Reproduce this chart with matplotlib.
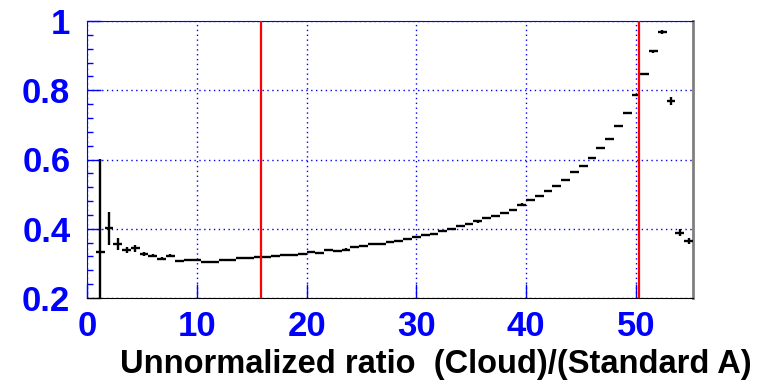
import numpy as np
import matplotlib.pyplot as plt

plt.rcParams['font.family'] = ['Liberation Sans', 'DejaVu Sans']

# histogram: 69 bins of width 0.8 on [0, 55.2], first bin empty
bin_width = 0.8
n_bins = 69
ratio = [0.334, 0.401, 0.355, 0.338, 0.343, 0.327, 0.322, 0.314, 0.322, 0.307,
         0.311, 0.309, 0.304, 0.304, 0.311, 0.310, 0.315, 0.315, 0.319, 0.319,
         0.322, 0.323, 0.325, 0.327, 0.333, 0.331, 0.339, 0.335, 0.340, 0.346,
         0.350, 0.355, 0.355, 0.361, 0.365, 0.370, 0.377, 0.381, 0.386, 0.394,
         0.400, 0.407, 0.413, 0.421, 0.431, 0.437, 0.445, 0.453, 0.470, 0.482,
         0.494, 0.509, 0.523, 0.542, 0.565, 0.580, 0.605, 0.633, 0.660, 0.698,
         0.735, 0.786, 0.847, 0.913, 0.968, 0.769, 0.389, 0.364]
ratio_err = [0.267, 0.048, 0.017, 0.009, 0.009, 0.006, 0.005, 0.005, 0.005, 0.003,
             0.003, 0.003, 0.003, 0.003, 0.003, 0.003, 0.003, 0.003, 0.003, 0.003,
             0.003, 0.003, 0.003, 0.003, 0.003, 0.003, 0.003, 0.003, 0.003, 0.003,
             0.003, 0.003, 0.003, 0.003, 0.003, 0.003, 0.003, 0.003, 0.003, 0.003,
             0.003, 0.003, 0.003, 0.003, 0.003, 0.003, 0.003, 0.003, 0.003, 0.003,
             0.003, 0.003, 0.003, 0.003, 0.003, 0.003, 0.003, 0.003, 0.003, 0.003,
             0.003, 0.003, 0.003, 0.004, 0.005, 0.012, 0.009, 0.009]
cut_lo = 15.85
cut_hi = 50.25

edges = np.arange(n_bins + 1) * bin_width
centers = (edges[1:] + edges[:-1]) / 2
x = centers[1:1 + len(ratio)]

fig = plt.figure(figsize=(7.64, 3.88), dpi=100)
ax = fig.add_axes([87 / 764, 90 / 388, 606 / 764, 277 / 388])

ax.errorbar(x, ratio, xerr=bin_width / 2, yerr=ratio_err, fmt='none',
            ecolor='black', elinewidth=1.7, capsize=0, zorder=3)

ax.axvline(cut_lo, color='red', lw=1.6, zorder=4)
ax.axvline(cut_hi, color='red', lw=1.6, zorder=4)

ax.set_xlim(edges[0], edges[-1])
ax.set_ylim(0.2, 1.0)
ax.set_xticks([0, 10, 20, 30, 40, 50])
ax.set_yticks([0.2, 0.4, 0.6, 0.8, 1.0])
ax.set_yticklabels(['0.2', '0.4', '0.6', '0.8', '1'])
ax.set_yticks(np.arange(0.2, 1.0, 0.04), minor=True)

ax.grid(True, color='blue', linestyle=(0, (1, 2.5)), linewidth=1.0, zorder=1)
ax.tick_params(axis='both', which='major', direction='in', length=10, width=1,
               color='blue', labelcolor='blue', labelsize=25)
ax.tick_params(axis='y', which='minor', direction='in', length=4.5, width=1,
               color='blue')
ax.tick_params(axis='x', pad=9)
ax.tick_params(axis='y', pad=12)
for lab in ax.get_xticklabels() + ax.get_yticklabels():
    lab.set_fontweight('bold')

ax.spines['left'].set_color('blue')
ax.spines['top'].set_color('blue')
ax.spines['bottom'].set_color('black')
ax.spines['right'].set_color('gray')
ax.spines['right'].set_linewidth(2)

fig.text(752 / 764, 24 / 388, 'Unnormalized ratio  (Cloud)/(Standard A)',
         ha='right', va='center', fontsize=23.5, fontweight='bold', color='black')

fig.savefig('out.png', dpi=100)
